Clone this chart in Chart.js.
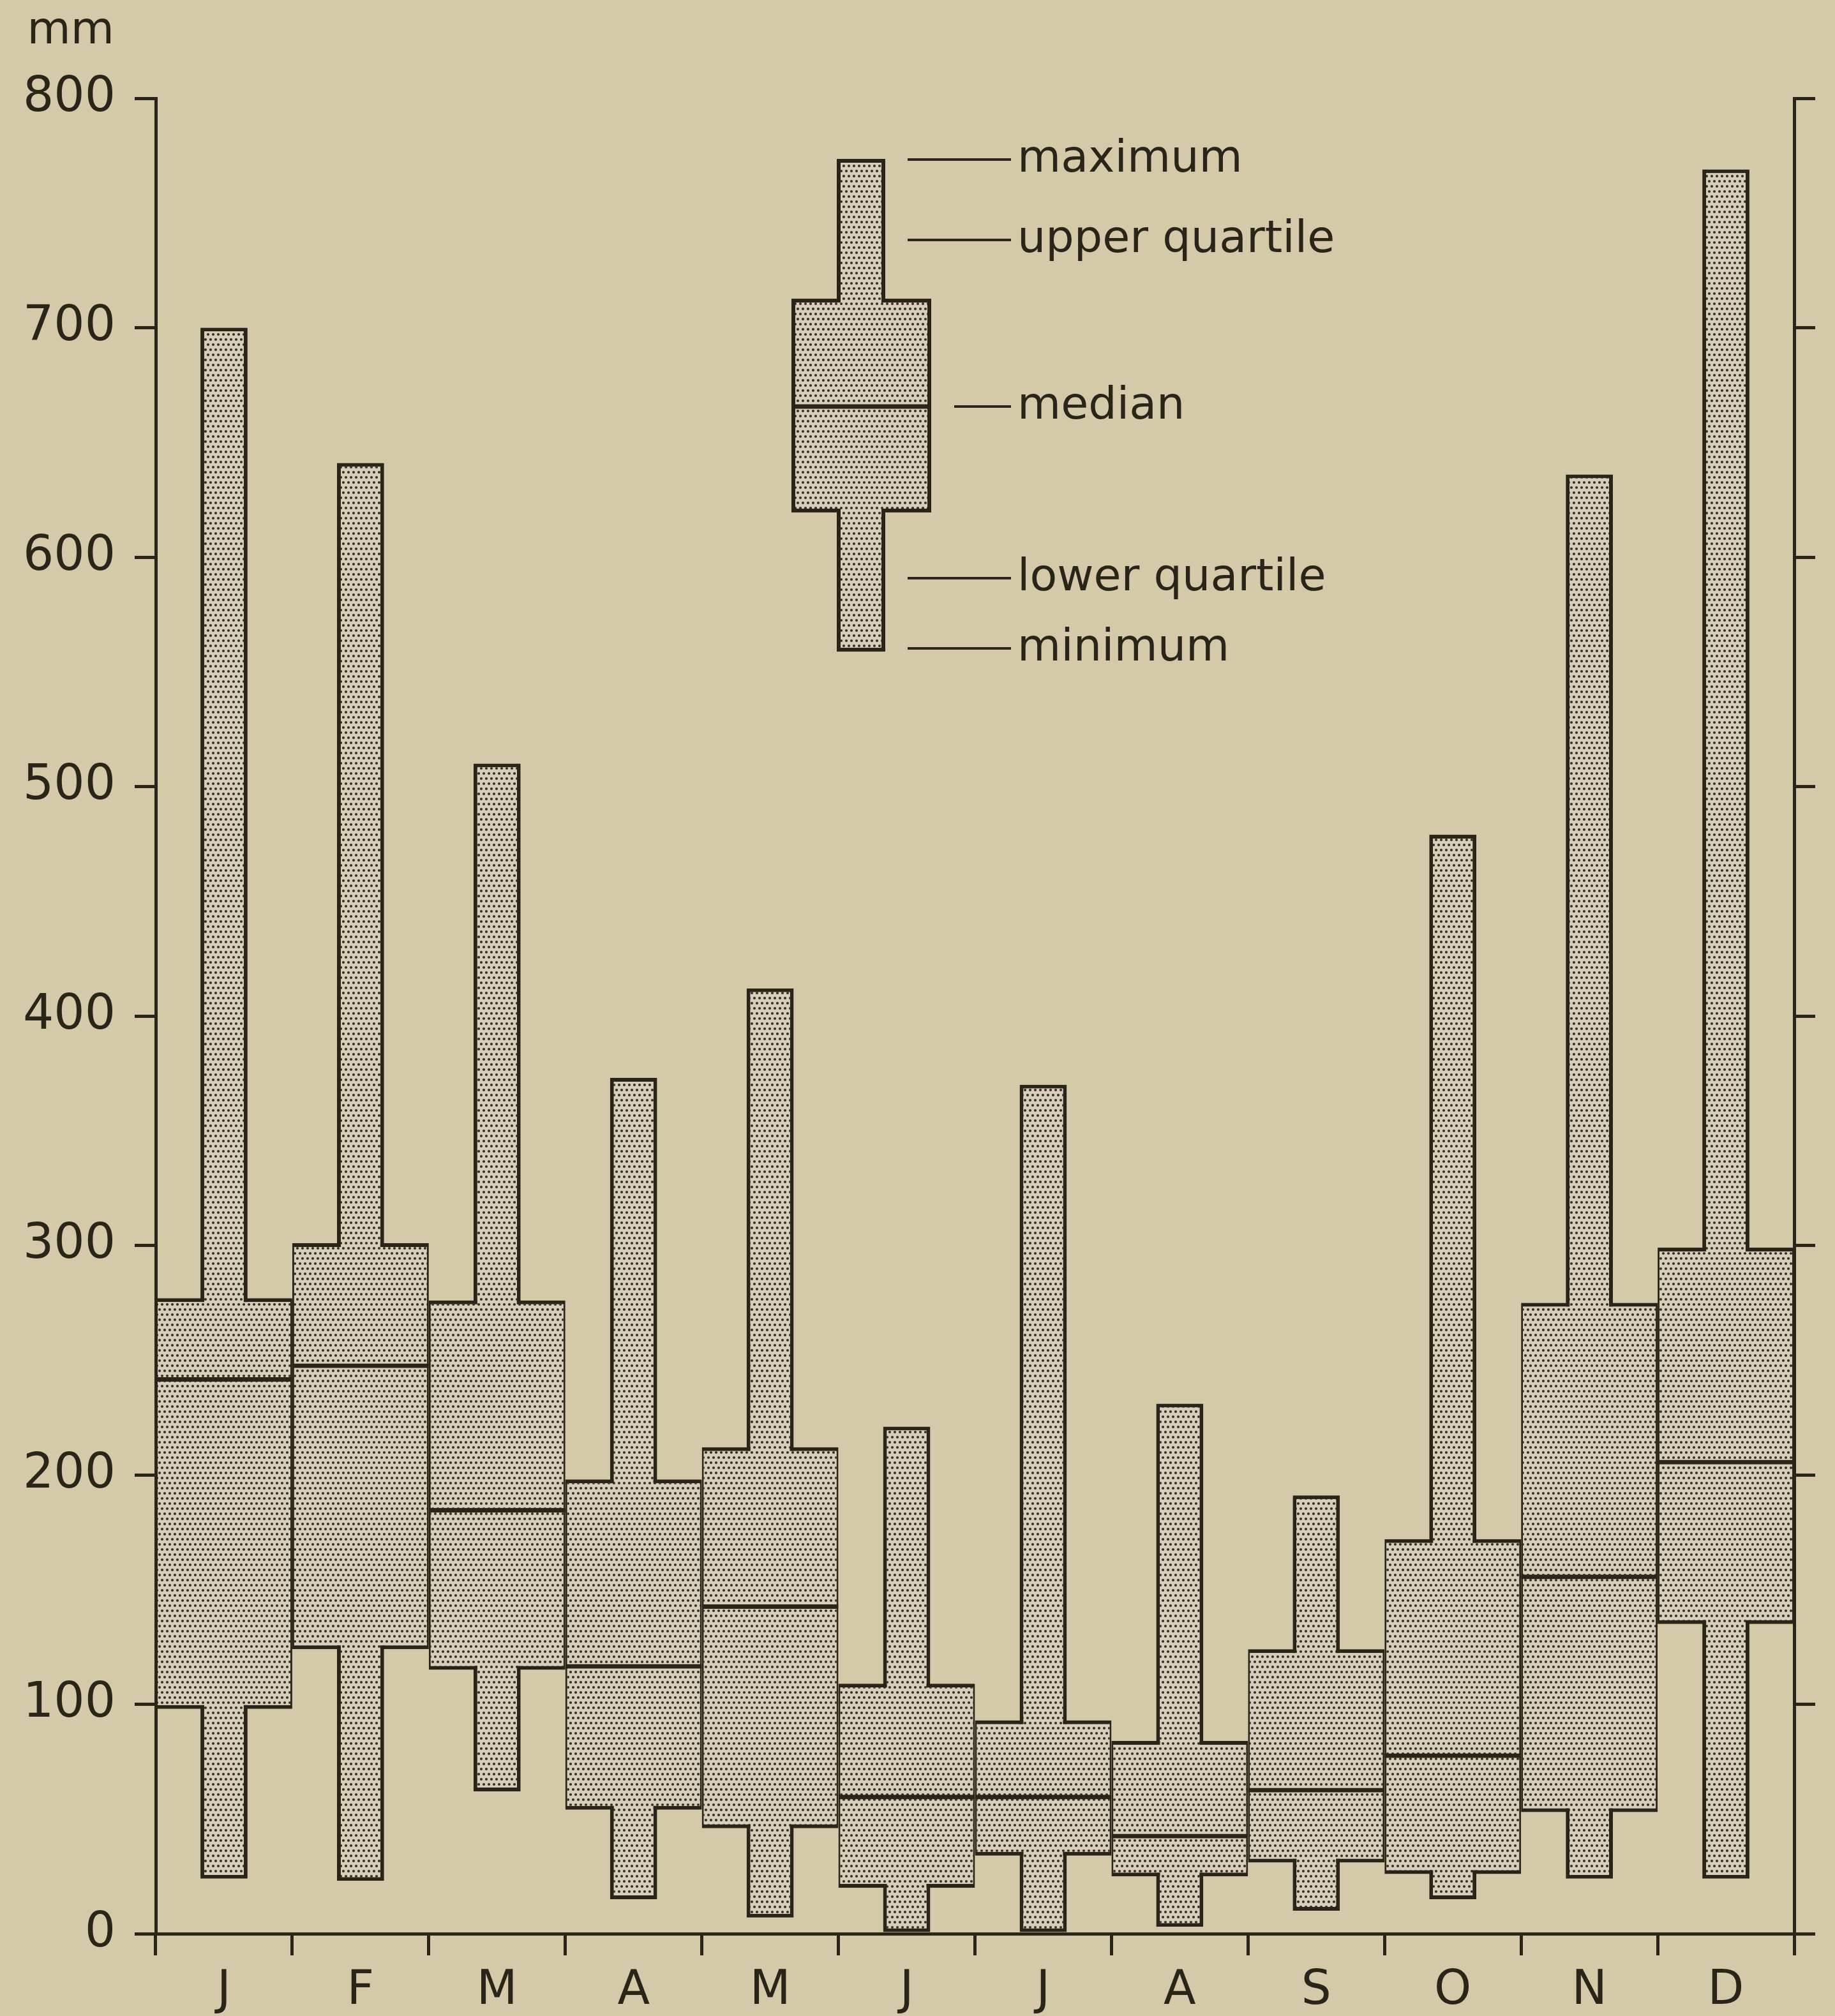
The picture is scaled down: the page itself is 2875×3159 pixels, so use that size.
<!DOCTYPE html>
<html>
<head>
<meta charset="utf-8">
<script src="https://cdn.jsdelivr.net/npm/chart.js@4/dist/chart.umd.min.js"></script>
<style>
  html, body { margin: 0; padding: 0; background: #d4c9a8; }
  #wrap { width: 2875px; height: 3159px; }
</style>
</head>
<body>
<div id="wrap"><canvas id="c" width="2875" height="3159"></canvas></div>
<script>
// ---------------- data (mm) ----------------
const months = ['J', 'F', 'M', 'A', 'M', 'J', 'J', 'A', 'S', 'O', 'N', 'D'];
const maxima         = [700, 641, 510, 373, 412, 221, 370, 231, 191, 479, 636, 769];
const upperQuartiles = [277, 301, 276, 198, 212, 109,  93,  84, 124, 172, 275, 299];
const medians        = [242, 248, 185, 117, 143,  60,  60,  43,  63,  78, 156, 206];
const lowerQuartiles = [ 98, 124, 115,  54,  46,  20,  34,  25,  31,  26,  53, 135];
const minima         = [ 24,  23,  62,  15,   7,   0,   0,   3,  10,  15,  24,  24];
const yTicks = [0, 100, 200, 300, 400, 500, 600, 700, 800];
const unitLabel = 'mm';
const keyLabels = ['maximum', 'upper quartile', 'median', 'lower quartile', 'minimum'];

// ---------------- styles ----------------
const INK = '#2a2519';
const PAGE = '#d4c9a8';
const FONT = 'DejaVu Sans';
const NARROW = 0.345;

const canvas = document.getElementById('c');
const mainCtx = canvas.getContext('2d');

function makePattern() {
  const t = document.createElement('canvas');
  t.width = 8; t.height = 16;
  const g = t.getContext('2d');
  g.fillStyle = '#d6cfb9';
  g.fillRect(0, 0, 8, 16);
  g.fillStyle = '#3a3428';
  [[2, 4], [6, 12]].forEach(([x, y]) => {
    g.beginPath(); g.arc(x, y, 2.1, 0, Math.PI * 2); g.fill();
  });
  return mainCtx.createPattern(t, 'repeat');
}
const dots = makePattern();

const rangeData  = months.map((_, i) => [minima[i], maxima[i]]);
const iqrData    = months.map((_, i) => [lowerQuartiles[i], upperQuartiles[i]]);
const medianData = months.map((_, i) => [lowerQuartiles[i], medians[i]]);

// key (legend) layout in canvas pixels
const KEY = {
  wl: 1243, wr: 1456, nl: 1314, nr: 1384,
  top: 252, q3: 471, med: 637, q1: 800, bot: 1018,
  lineX1: 1422, medLineX1: 1495, lineX2: 1584, textX: 1594,
  rows: [250, 376, 637, 906, 1016]
};

const decorPlugin = {
  id: 'decor',
  beforeDraw(chart) {
    const ctx = chart.ctx;
    ctx.save();
    ctx.fillStyle = PAGE;
    ctx.fillRect(0, 0, chart.width, chart.height);
    ctx.restore();
  },
  afterDraw(chart) {
    const ctx = chart.ctx;
    ctx.save();
    // unit label
    ctx.fillStyle = INK;
    ctx.font = '70px "' + FONT + '"';
    ctx.textAlign = 'right';
    ctx.textBaseline = 'alphabetic';
    ctx.fillText(unitLabel, 179, 68);

    // key glyph
    const k = KEY;
    ctx.beginPath();
    ctx.moveTo(k.nl, k.top); ctx.lineTo(k.nr, k.top); ctx.lineTo(k.nr, k.q3);
    ctx.lineTo(k.wr, k.q3); ctx.lineTo(k.wr, k.q1); ctx.lineTo(k.nr, k.q1);
    ctx.lineTo(k.nr, k.bot); ctx.lineTo(k.nl, k.bot); ctx.lineTo(k.nl, k.q1);
    ctx.lineTo(k.wl, k.q1); ctx.lineTo(k.wl, k.q3); ctx.lineTo(k.nl, k.q3);
    ctx.closePath();
    ctx.fillStyle = dots;
    ctx.fill();
    ctx.lineWidth = 6;
    ctx.lineJoin = 'miter';
    ctx.strokeStyle = INK;
    ctx.stroke();
    ctx.beginPath();
    ctx.lineWidth = 7;
    ctx.moveTo(k.wl, k.med); ctx.lineTo(k.wr, k.med);
    ctx.stroke();

    // key leaders + labels
    ctx.lineWidth = 4;
    ctx.fillStyle = INK;
    ctx.font = '70px "' + FONT + '"';
    ctx.textAlign = 'left';
    ctx.textBaseline = 'alphabetic';
    keyLabels.forEach((lab, i) => {
      const y = k.rows[i];
      ctx.beginPath();
      ctx.moveTo(i === 2 ? k.medLineX1 : k.lineX1, y);
      ctx.lineTo(k.lineX2, y);
      ctx.stroke();
      ctx.fillText(lab, k.textX, y + 19);
    });
    ctx.restore();
  }
};

Chart.defaults.font.family = FONT;
Chart.defaults.color = INK;

new Chart(canvas, {
  type: 'bar',
  data: {
    labels: months,
    datasets: [
      { label: 'median', data: medianData, order: 0, barPercentage: 1,
        backgroundColor: 'rgba(0,0,0,0)', borderColor: INK,
        borderWidth: { top: 3, right: 0, bottom: 0, left: 0 }, inflateAmount: 2, borderSkipped: false },
      { label: 'range fill', data: rangeData, order: 1, barPercentage: NARROW,
        backgroundColor: dots, borderColor: 'rgba(0,0,0,0)', borderWidth: 6, inflateAmount: 0, borderSkipped: false },
      { label: 'quartile range', data: iqrData, order: 2, barPercentage: 1,
        backgroundColor: dots, borderColor: INK,
        borderWidth: { top: 6, bottom: 6, left: 3, right: 3 }, inflateAmount: 0, borderSkipped: false },
      { label: 'range', data: rangeData, order: 3, barPercentage: NARROW,
        backgroundColor: dots, borderColor: INK, borderWidth: 6, inflateAmount: 0, borderSkipped: false }
    ]
  },
  options: {
    responsive: false,
    devicePixelRatio: 1,
    animation: false,
    events: [],
    layout: { padding: { top: 154, left: 0, right: 0, bottom: 0 } },
    datasets: { bar: { grouped: false, categoryPercentage: 1 } },
    plugins: { legend: { display: false }, tooltip: { enabled: false }, title: { display: false } },
    scales: {
      x: {
        type: 'category',
        offset: true,
        grid: { offset: true, drawOnChartArea: false, drawTicks: true, tickLength: 34, color: INK, lineWidth: 5 },
        border: { display: true, color: INK, width: 5 },
        ticks: { font: { size: 74 }, color: INK, padding: 12, maxRotation: 0, autoSkip: false },
        afterFit(s) { s.height = 129; }
      },
      y: {
        type: 'linear', position: 'left', min: 0, max: 800,
        afterBuildTicks(s) { s.ticks = yTicks.map(v => ({ value: v })); },
        grid: { drawOnChartArea: false, drawTicks: true, tickLength: 33, color: INK, lineWidth: 5 },
        border: { display: true, color: INK, width: 5 },
        ticks: { font: { size: 76 }, color: INK, padding: 30 },
        afterFit(s) { s.width = 244; }
      },
      y2: {
        type: 'linear', position: 'right', min: 0, max: 800,
        afterBuildTicks(s) { s.ticks = yTicks.map(v => ({ value: v })); },
        grid: { drawOnChartArea: false, drawTicks: true, tickLength: 33, color: INK, lineWidth: 5 },
        border: { display: true, color: INK, width: 5 },
        ticks: { display: false },
        afterFit(s) { s.width = 64; }
      }
    }
  },
  plugins: [decorPlugin]
});
</script>
</body>
</html>
